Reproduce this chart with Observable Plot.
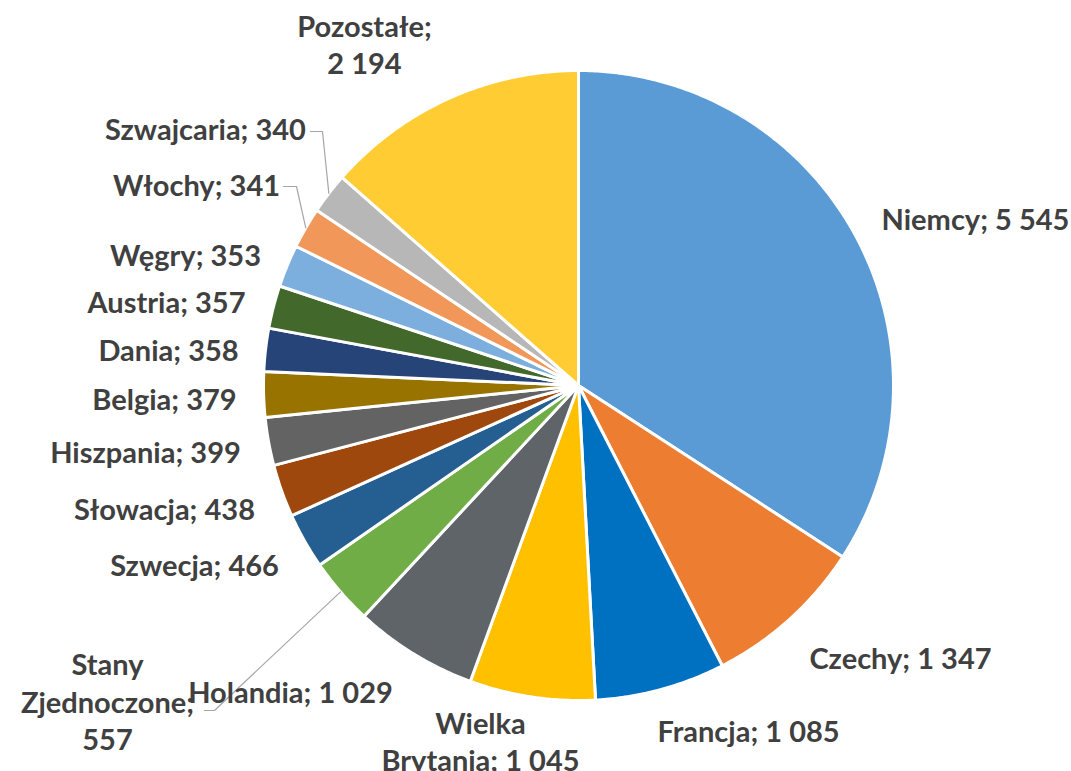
<!DOCTYPE html>
<html>
<head>
<meta charset="utf-8">
<script src="https://cdn.jsdelivr.net/npm/d3@7"></script>
<script src="https://cdn.jsdelivr.net/npm/@observablehq/plot@0.6"></script>
<style>
  html, body { margin: 0; padding: 0; background: #fff; }
  #chart svg { display: block; }
</style>
</head>
<body>
<div id="chart"></div>
<script>
// ---- data ----
const names = ["Niemcy","Czechy","Francja","Wielka Brytania","Holandia","Stany Zjednoczone","Szwecja","Słowacja","Hiszpania","Belgia","Dania","Austria","Węgry","Włochy","Szwajcaria","Pozostałe"];
const values = [5545,1347,1085,1045,1029,557,466,438,399,379,358,357,353,341,340,2194];
const colors = ["#5B9BD5","#ED7D31","#0070C0","#FFC000","#5F6468","#70AD47","#255E91","#9E480E","#636363","#997300","#264478","#43682B","#7CAFDD","#F1975A","#B7B7B7","#FFCD33"];

// ---- layout (pixels) ----
const W = 1071, H = 771;
const cx = 578, cy = 385, R = 315;
const labelX = [975, 900, 748, 480, 290, 107, 194, 164, 145, 164, 168, 166, 185, 196, 205, 364];
const labelY = [217, 656, 729, 740, 690, 700, 563, 507, 450, 397, 348, 300, 253, 183, 127, 43];
// line-break mode: 0 none, 1 break words of name, 2 break before value, 3 both
const labelWrap = [0,0,0,1,0,3,0,0,0,0,0,0,0,0,0,2];
// leader lines: slice index, label-end point and elbow point
const leaderIdx = [14, 13, 5];
const leaderStart = [[310,131],[283,186],[204,710]];
const leaderElbow = [[322,131],[296,186],[214,710]];

const fmt = d3.formatLocale({decimal: ",", thousands: " ", grouping: [3], currency: ["", ""]}).format(",d");

const arcs = d3.pie().sort(null).value(d => d)(values);
const pt = (a, r) => [cx + r * Math.sin(a), cy - r * Math.cos(a)];

// slice polygons
const slicePts = [];
arcs.forEach((a, i) => {
  slicePts.push({name: names[i], x: cx, y: cy});
  const n = Math.max(2, Math.ceil((a.endAngle - a.startAngle) / (Math.PI / 360)));
  for (let k = 0; k <= n; k++) {
    const t = a.startAngle + (a.endAngle - a.startAngle) * k / n;
    const [x, y] = pt(t, R);
    slicePts.push({name: names[i], x, y});
  }
});

// labels
const labels = names.map((nm, i) => {
  const w = labelWrap[i];
  const nameTxt = (w & 1) ? nm.replace(/ /g, "\n") : nm;
  const sep = (w & 2) ? ";\n" : "; ";
  return {text: nameTxt + sep + fmt(values[i]), x: labelX[i], y: labelY[i]};
});

// leaders
const leaderPts = [];
leaderIdx.forEach((si, j) => {
  const a = arcs[si];
  const [ex, ey] = pt((a.startAngle + a.endAngle) / 2, R);
  leaderPts.push({id: j, x: leaderStart[j][0], y: leaderStart[j][1]});
  leaderPts.push({id: j, x: leaderElbow[j][0], y: leaderElbow[j][1]});
  leaderPts.push({id: j, x: ex, y: ey});
});

const chart = Plot.plot({
  width: W,
  height: H,
  margin: 0,
  x: {domain: [0, W], range: [0, W], axis: null},
  y: {domain: [0, H], range: [0, H], axis: null},
  color: {domain: names, range: colors},
  style: {background: "#fff"},
  marks: [
    Plot.line(slicePts, {x: "x", y: "y", z: "name", fill: "name", stroke: "#fff", strokeWidth: 3, strokeLinejoin: "round", curve: "linear-closed"}),
    Plot.line(leaderPts, {x: "x", y: "y", z: "id", stroke: "#A6A6A6", strokeWidth: 1.2}),
    Plot.text(labels, {x: "x", y: "y", text: "text", fill: "#404040", fontSize: 29, fontWeight: "bold", fontFamily: "Lato, 'Open Sans', sans-serif", lineHeight: 1.3, textAnchor: "middle"})
  ]
});
document.getElementById("chart").appendChild(chart);
</script>
</body>
</html>
